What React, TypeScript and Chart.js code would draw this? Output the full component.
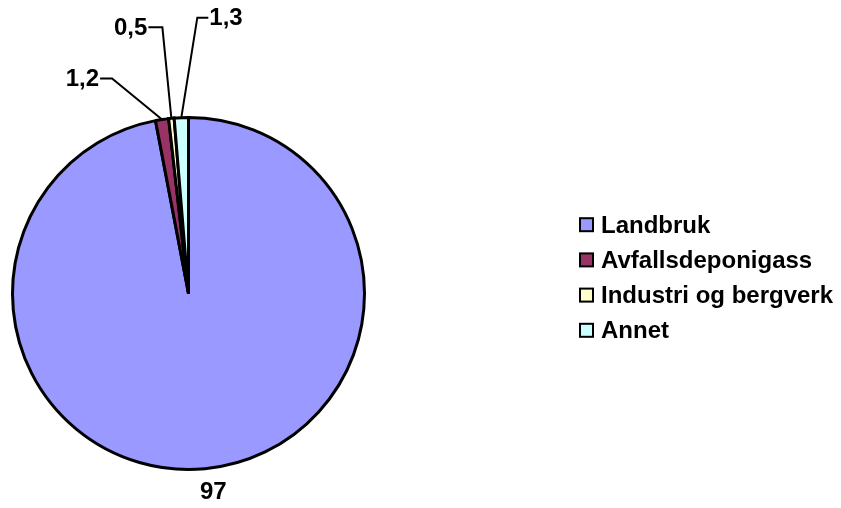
import { useEffect, useRef } from 'react';
import { Chart, registerables } from 'chart.js';

Chart.register(...registerables);

const categories = ['Landbruk', 'Avfallsdeponigass', 'Industri og bergverk', 'Annet'];
const values = [97, 1.2, 0.5, 1.3];
const colors = ['#9999FF', '#993366', '#FFFFCC', '#CCFFFF'];

const W = 841;
const H = 508;
const FONT_FAMILY = '"Liberation Sans", Arial, Helvetica, sans-serif';

const fmt = (v: number) => String(v).replace('.', ',');

// label styles per slice: outside label, or leader line (knee offset from arc edge, horizontal run)
const leaders: Array<{ out?: number; shift?: number; dx?: number; dy?: number; run?: number }> = [
  { out: 23, shift: 6 },
  { dx: -50, dy: -41, run: -12 },
  { dx: -9, dy: -91, run: -14 },
  { dx: 16, dy: -100, run: 11 },
];

const annotate = {
  id: 'annotate',
  afterDraw(chart: any) {
    const ctx = chart.ctx as CanvasRenderingContext2D;
    const meta = chart.getDatasetMeta(0);
    const ds = chart.data.datasets[0];
    ctx.save();
    ctx.font = `bold 24px ${FONT_FAMILY}`;
    ctx.fillStyle = '#000';
    ctx.strokeStyle = '#000';
    ctx.lineWidth = 2;
    meta.data.forEach((arc: any, i: number) => {
      const { x, y, startAngle, endAngle, outerRadius } = arc.getProps(
        ['x', 'y', 'startAngle', 'endAngle', 'outerRadius'],
        true
      );
      const mid = (startAngle + endAngle) / 2;
      const px = x + Math.cos(mid) * outerRadius;
      const py = y + Math.sin(mid) * outerRadius;
      const text = fmt(ds.data[i]);
      const ld = leaders[i];
      if (ld.out !== undefined) {
        const d = outerRadius + ld.out;
        ctx.textAlign = 'center';
        ctx.textBaseline = 'middle';
        ctx.fillText(text, x + Math.cos(mid) * d + (ld.shift || 0), y + Math.sin(mid) * d + 1);
      } else {
        const kx = px + (ld.dx as number);
        const ky = py + (ld.dy as number);
        const run = ld.run as number;
        const ex = kx + run;
        ctx.beginPath();
        ctx.moveTo(px, py);
        ctx.lineTo(kx, ky);
        ctx.lineTo(ex, ky);
        ctx.stroke();
        ctx.textBaseline = 'middle';
        if (run < 0) {
          ctx.textAlign = 'right';
          ctx.fillText(text, ex - 1, ky + 1);
        } else {
          ctx.textAlign = 'left';
          ctx.fillText(text, ex + 1, ky + 1);
        }
      }
    });

    // legend
    const lx = 580;
    const ly0 = 224.7;
    const step = 35.2;
    ctx.textAlign = 'left';
    ctx.textBaseline = 'alphabetic';
    chart.data.labels.forEach((lab: string, i: number) => {
      const cy = ly0 + i * step;
      ctx.fillStyle = ds.backgroundColor[i];
      ctx.fillRect(lx, cy - 6.5, 13, 13);
      ctx.lineWidth = 2;
      ctx.strokeStyle = '#000';
      ctx.strokeRect(lx, cy - 6.5, 13, 13);
      ctx.fillStyle = '#000';
      ctx.fillText(lab, 601, cy + 8);
    });
    ctx.restore();
  },
};

export default function App() {
  const ref = useRef<HTMLCanvasElement | null>(null);
  useEffect(() => {
    if (!ref.current) return;
    const chart = new Chart(ref.current, {
      type: 'pie',
      data: {
        labels: categories,
        datasets: [
          {
            data: values,
            backgroundColor: colors,
            borderColor: '#000',
            borderWidth: 3,
            borderJoinStyle: 'miter',
          },
        ],
      },
      options: {
        responsive: false,
        maintainAspectRatio: false,
        animation: false,
        layout: { padding: { left: 11, top: 116, right: W - 366, bottom: H - 471 } },
        plugins: {
          legend: { display: false },
          tooltip: { enabled: false },
        },
      },
      plugins: [annotate],
    });
    return () => chart.destroy();
  }, []);
  return (
    <div style={{ position: 'fixed', left: 0, top: 0, width: W, height: H, background: '#fff' }}>
      <canvas ref={ref} width={W} height={H} style={{ width: W, height: H, display: 'block' }} />
    </div>
  );
}
